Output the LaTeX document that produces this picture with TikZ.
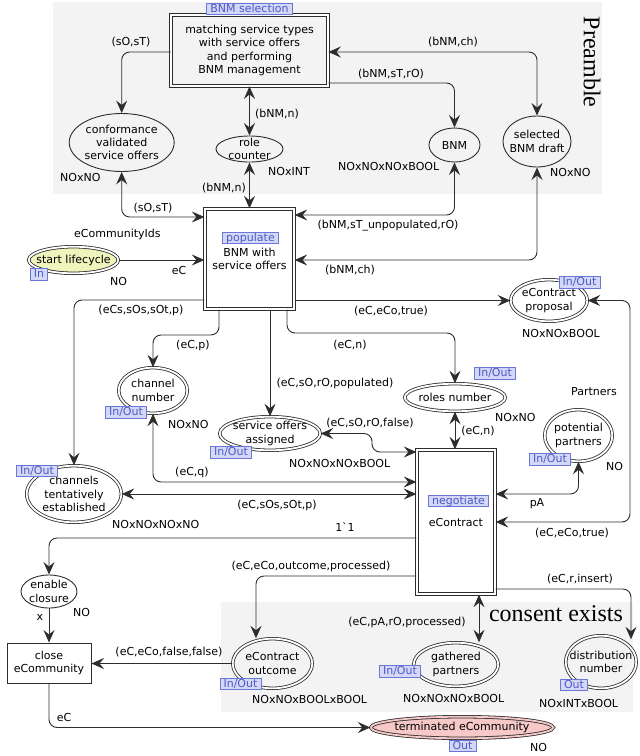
\documentclass[tikz,border=0pt]{standalone}
\usepackage{fontspec}
\newfontfamily\dvs{DejaVu Sans}
\newfontfamily\bigserif{Liberation Serif}
\usetikzlibrary{shapes.geometric,arrows.meta}
\definecolor{regiongray}{RGB}{243,243,243}
\definecolor{tagfill}{RGB}{212,216,246}
\definecolor{tagdraw}{RGB}{105,120,215}
\definecolor{tagtext}{RGB}{75,90,200}
\definecolor{startfill}{RGB}{238,244,188}
\definecolor{termfill}{RGB}{246,200,200}
\definecolor{netline}{RGB}{45,45,45}
\tikzset{
  place/.style={ellipse, draw=netline, line width=0.9pt, inner sep=0pt},
  ioplace/.style={ellipse, draw=netline, line width=0.8pt, double=white, double distance=1.8pt, inner sep=0pt},
  trans/.style={rectangle, draw=netline, line width=0.8pt, double=white, double distance=2pt, inner sep=0pt, align=center},
  plaintrans/.style={rectangle, draw=netline, line width=1pt, inner sep=0pt, align=center},
  tag/.style={draw=tagdraw, fill=tagfill, text=tagtext, line width=0.8pt, inner xsep=3.5pt, inner ysep=0pt, minimum height=11.5pt, text height=8.5pt, text depth=2pt},
  arctip/.tip={Stealth[length=12.5pt,width=11pt,inset=4.5pt]},
  arc/.style={draw=netline, line width=0.9pt, rounded corners=8pt, -arctip},
  arcboth/.style={draw=netline, line width=0.9pt, rounded corners=8pt, arctip-arctip},
  lbl/.style={inner sep=0pt, align=center},
  typ/.style={inner sep=0pt, anchor=west},
  inl/.style={inner sep=0pt, align=center},
}
\begin{document}
\begin{tikzpicture}[x=1pt, y=-1pt, font=\dvs\fontsize{11}{13.3}\selectfont]
\useasboundingbox (0,0) rectangle (640,756);

% shaded regions
\fill[regiongray] (53,2) rectangle (602,194);
\fill[regiongray] (221,602) rectangle (633,712);
\node[font=\bigserif\fontsize{24}{24}\selectfont, rotate=-90, inner sep=0pt] (pre) at (592,62) {Preamble};
\node[font=\bigserif\fontsize{24}{24}\selectfont, inner sep=0pt] (cons) at (556,614) {consent exists};

% transitions
\node[trans, minimum width=157pt, minimum height=71pt] (sel) at (249.5,50.5)
  {matching service types\\with service offers\\and performing\\BNM management};
\node[trans, minimum width=89.5pt, minimum height=100.5pt] (pop) at (249.5,259) {BNM with\\service offers};
\node[trans, minimum width=78.5pt, minimum height=144.5pt] (neg) at (456,522) {eContract};
\node[plaintrans, minimum width=84pt, minimum height=40pt] (close) at (49,663) {close\\eCommunity};

% places
\node[place, minimum width=105pt, minimum height=58pt,
  label={[inl]center:conformance\\validated\\service offers}] (cvso) at (121.7,142.5) {};
\node[place, minimum width=67pt, minimum height=26pt,
  label={[inl]center:role\\counter}] (role) at (249.5,149) {};
\node[place, minimum width=51pt, minimum height=34pt,
  label={[inl]center:BNM}] (bnm) at (454.5,145) {};
\node[place, minimum width=68pt, minimum height=51pt,
  label={[inl]center:selected\\BNM draft}] (draft) at (537,141.5) {};
\node[ioplace, fill=startfill, minimum width=89.6pt, minimum height=26.6pt,
  label={[inl]center:start lifecycle}] (start) at (73.5,260) {};
\node[ioplace, minimum width=76.6pt, minimum height=41.6pt,
  label={[inl]center:eContract\\proposal}] (prop) at (549,300.5) {};
\node[ioplace, minimum width=68.6pt, minimum height=45.6pt,
  label={[inl]center:channel\\number}] (chn) at (153,390.5) {};
\node[ioplace, minimum width=100.6pt, minimum height=33.6pt,
  label={[inl]center:service offers\\assigned}] (soa) at (270,433.5) {};
\node[ioplace, minimum width=100.6pt, minimum height=27.6pt,
  label={[inl]center:roles number}] (rn) at (455,397.5) {};
\node[ioplace, minimum width=67.6pt, minimum height=51.6pt,
  label={[inl]center:potential\\partners}] (pp) at (578.5,435.5) {};
\node[ioplace, minimum width=94.6pt, minimum height=56.6pt,
  label={[inl]center:channels\\tentatively\\established}] (cte) at (74,494) {};
\node[place, minimum width=56pt, minimum height=33pt,
  label={[inl]center:enable\\closure}] (ec) at (49,591.5) {};
\node[ioplace, minimum width=79.6pt, minimum height=49.6pt,
  label={[inl]center:eContract\\outcome}] (outc) at (272.5,663.5) {};
\node[ioplace, minimum width=84.6pt, minimum height=43.6pt,
  label={[inl]center:gathered\\partners}] (gath) at (456,664.5) {};
\node[ioplace, minimum width=70.6pt, minimum height=52.6pt,
  label={[inl]center:distribution\\number}] (dist) at (601,662) {};
\node[ioplace, fill=termfill, double=termfill, minimum width=182.6pt, minimum height=21.6pt,
  label={[inl]center:terminated eCommunity}] (term) at (462,727.5) {};

% colour sets
\node[typ] (t1) at (60,177) {NOxNO};
\node[typ] (t2) at (268,171) {NOxINT};
\node[typ] (t3) at (338,166) {NOxNOxNOxBOOL};
\node[typ] (t4) at (550,172) {NOxNO};
\node[typ] (t5) at (74,234) {eCommunityIds};
\node[typ] (t6) at (110,281) {NO};
\node[typ] (t7) at (522,333) {NOxNOxBOOL};
\node[typ] (t8) at (168,424) {NOxNO};
\node[typ] (t9) at (289,463) {NOxNOxNOxBOOL};
\node[typ] (t10) at (495,417) {NOxNO};
\node[typ] (t11) at (571,392) {Partners};
\node[typ] (t12) at (606,466) {NO};
\node[typ] (t13) at (112,524) {NOxNOxNOxNO};
\node[typ] (t14) at (73,612) {NO};
\node[typ] (t15) at (252,699) {NOxNOxBOOLxBOOL};
\node[typ] (t16) at (403,698) {NOxNOxNOxBOOL};
\node[typ] (t17) at (539,703) {NOxINTxBOOL};
\node[typ] (t18) at (530,747) {NO};

% arcs
\draw[arc] (sel.west |- 0,52) -| (cvso.north);
\draw[arcboth] (draft.north) |- (sel.east |- 0,52);
\draw[arc] (sel.east |- 0,83) -| (bnm.north);
\draw[arcboth] (sel.south) -- (role.north);
\draw[arcboth] (role.south) -- (pop.north);
\draw[arcboth] (cvso.south) |- (pop.west |- 0,217);
\draw[arcboth] (bnm.south) |- (pop.east |- 0,215);
\draw[arcboth] (draft.south) |- (pop.east |- 0,260);
\draw[arc] (start.east) -- (pop.west |- start.east);
\draw[arc] (pop.east |- prop.west) -- (prop.west);
\draw[arc] (pop.west |- 0,300) -| (cte.north);
\draw[arc] (pop.south -| 219,0) -- (219,335) -| (chn.north);
\draw[arc] (soa.north |- pop.south) -- (soa.north);
\draw[arc] (pop.south -| 287,0) -- (287,333) -| (rn.north);
\draw[arcboth] (rn.south) -- (rn.south |- neg.north);
\draw[arcboth] (soa.east) -- (soa.east -| 372,0) |- (neg.west |- 0,452);
\draw[arcboth] (chn.south) |- (neg.west |- 0,482);
\draw[arcboth] (cte.east) -- (neg.west |- cte.east);
\draw[arcboth] (neg.east |- 0,494) -| (pp.south);
\draw[arcboth] (prop.east) -| (630,522) -- (neg.east |- 0,522);
\draw[arc] (neg.west |- 0,538) -| (ec.north);
\draw[arc] (neg.west |- 0,576) -| (outc.north -| 256,0);
\draw[arcboth] (neg.south -| 479,0) -- (gath.north -| 479,0);
\draw[arc] (neg.east |- 0,589) -| ([yshift=-4pt]dist.north -| 631,0);
\draw[arc] (ec.south) -- (close.north);
\draw[arc] (outc.west) -- (close.east |- outc.west);
\draw[arc] (close.south) |- (term.west);

% arc inscriptions
\node[lbl] (a1) at (131,42) {(sO,sT)};
\node[lbl] (a2) at (453,42) {(bNM,ch)};
\node[lbl] (a3) at (391,74) {(bNM,sT,rO)};
\node[lbl] (a4) at (277,114) {(bNM,n)};
\node[lbl] (a5) at (224,188) {(bNM,n)};
\node[lbl] (a6) at (153,208) {(sO,sT)};
\node[lbl] (a7) at (388,226) {(bNM,sT\_unpopulated,rO)};
\node[lbl] (a8) at (350,270) {(bNM,ch)};
\node[lbl] (a9) at (179,270) {eC};
\node[lbl] (a10) at (391,311) {(eC,eCo,true)};
\node[lbl] (a11) at (141,310) {(eCs,sOs,sOt,p)};
\node[lbl] (a12) at (193,345) {(eC,p)};
\node[lbl] (a13) at (335,383) {(eC,sO,rO,populated)};
\node[lbl] (a14) at (350,345) {(eC,n)};
\node[lbl] (a15) at (478,431) {(eC,n)};
\node[lbl] (a16) at (370,423) {(eC,sO,rO,false)};
\node[lbl] (a17) at (192,472) {(eC,q)};
\node[lbl] (a18) at (277,505) {(eC,sOs,sOt,p)};
\node[lbl] (a19) at (537,504) {pA};
\node[lbl] (a20) at (572,533) {(eC,eCo,true)};
\node[lbl] (a21) at (345,527) {1`1};
\node[lbl] (a22) at (311,566) {(eC,eCo,outcome,processed)};
\node[lbl] (a23) at (407,622) {(eC,pA,rO,processed)};
\node[lbl] (a24) at (580,579) {(eC,r,insert)};
\node[lbl] (a25) at (40,617) {x};
\node[lbl] (a26) at (169,652) {(eC,eCo,false,false)};
\node[lbl] (a27) at (64,717) {eC};

% substitution and port tags
\node[tag] (g1) at (249.5,9) {BNM selection};
\node[tag] (g2) at (250.5,238) {populate};
\node[tag] (g3) at (458.5,501) {negotiate};
\node[tag] (g4) at (39,274.5) {In};
\node[tag] (g5) at (579.5,282.5) {In/Out};
\node[tag] (g6) at (126,412.5) {In/Out};
\node[tag] (g7) at (231,452.5) {In/Out};
\node[tag] (g8) at (495,373.5) {In/Out};
\node[tag] (g9) at (550,459.5) {In/Out};
\node[tag] (g10) at (37,471) {In/Out};
\node[tag] (g11) at (240.5,684) {In/Out};
\node[tag] (g12) at (400,671.5) {In/Out};
\node[tag] (g13) at (574,685) {Out};
\node[tag] (g14) at (462.5,746) {Out};
\end{tikzpicture}
\end{document}
